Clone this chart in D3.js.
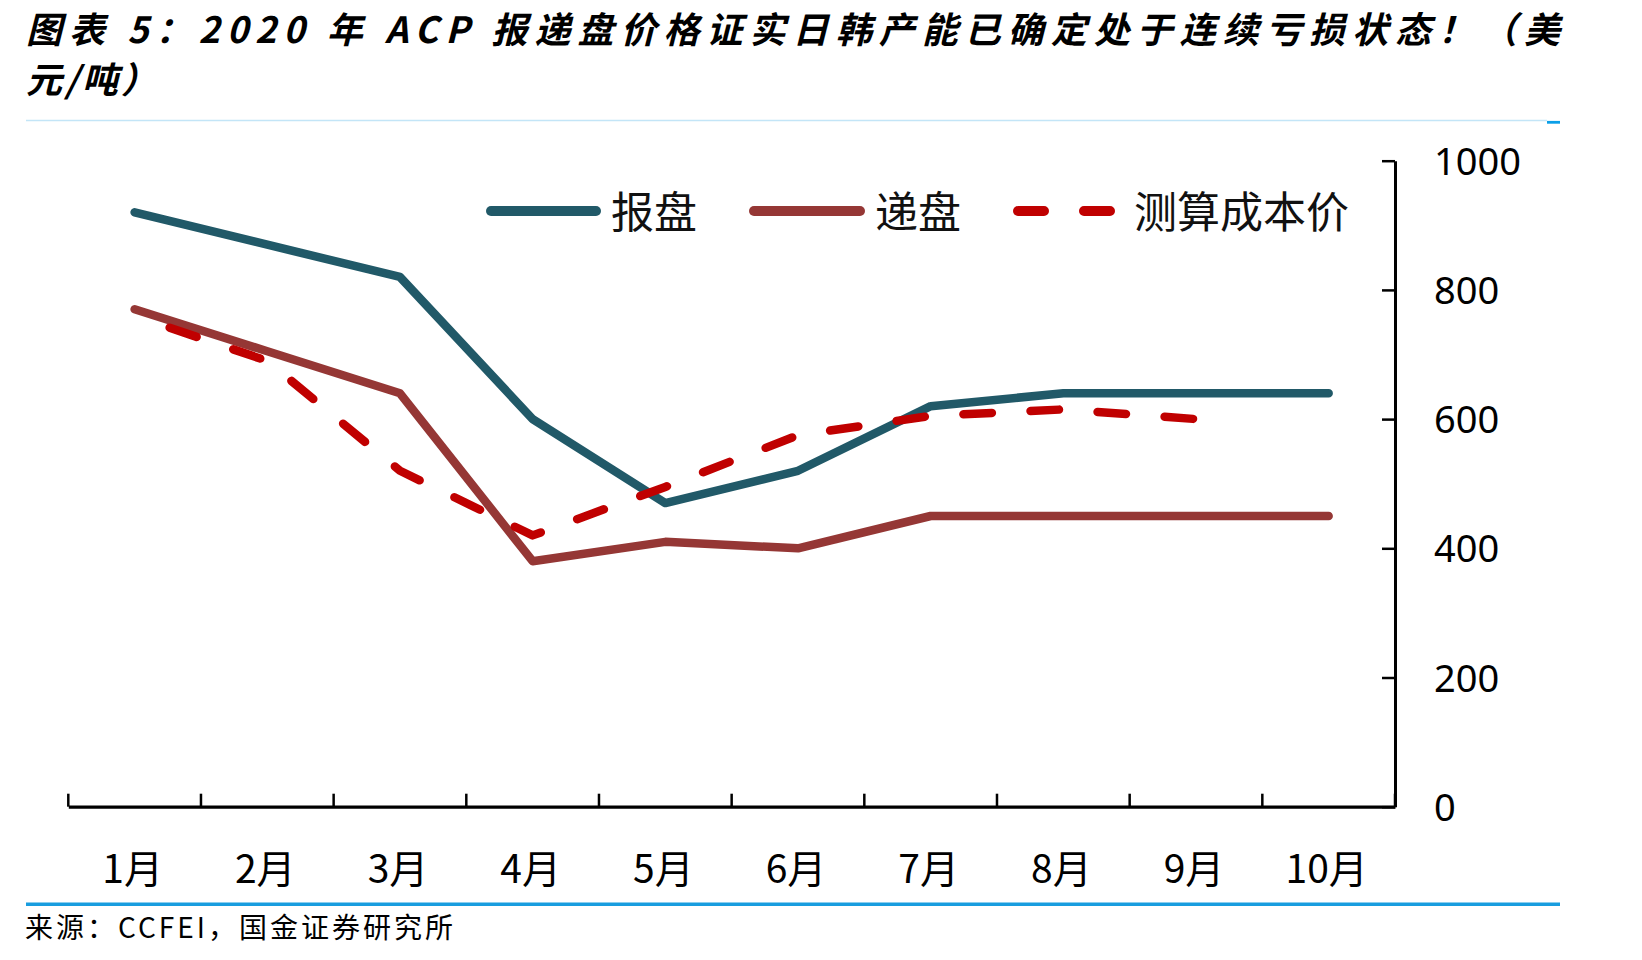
<!DOCTYPE html>
<html>
<head>
<meta charset="utf-8">
<script src="https://cdn.jsdelivr.net/npm/d3@7"></script>
<style>
  html, body { margin: 0; padding: 0; background: #ffffff; }
  svg { display: block; }
</style>
</head>
<body>
<svg id="chart" width="1642" height="960"></svg>
<script>
// ---------------- data ----------------
const titleLine1 = "图表 5：2020 年 ACP 报递盘价格证实日韩产能已确定处于连续亏损状态！（美";
const titleLine2 = "元/吨）";
const sourceText = "来源：CCFEI，国金证券研究所";
const months = ["1月", "2月", "3月", "4月", "5月", "6月", "7月", "8月", "9月", "10月"];
const seriesNames = ["报盘", "递盘", "测算成本价"];
const offerPrice = [920, 870, 820, 600, 470, 520, 620, 640, 640, 640];   // 报盘
const bidPrice   = [770, 705, 640, 380, 410, 400, 450, 450, 450, 450];   // 递盘
const costPrice  = [760, 690, 520, 420, 495, 575, 605, 615, 600];        // 测算成本价 (1–9月)
const yTicks = [0, 200, 400, 600, 800, 1000];

// ---------------- setup ----------------
const svg = d3.select("#chart");
const CJK = "'Noto Sans CJK SC', 'Noto Sans', sans-serif";
const colors = { offer: "#215968", bid: "#953735", cost: "#C00000" };

const x = d3.scaleBand().domain(months).range([68.3, 1395]).padding(0);
const y = d3.scaleLinear().domain([0, 1000]).range([806.7, 160.7]);
const cx = d => x(d) + x.bandwidth() / 2;

// ---------------- title ----------------
svg.append("text")
  .attr("x", 26).attr("y", 43)
  .attr("font-family", CJK).attr("font-weight", "bold").attr("font-style", "italic")
  .attr("font-size", 36).attr("fill", "#000")
  .attr("textLength", 1534).attr("lengthAdjust", "spacing")
  .text(titleLine1);
svg.append("text")
  .attr("x", 26).attr("y", 93)
  .attr("font-family", CJK).attr("font-weight", "bold").attr("font-style", "italic")
  .attr("font-size", 36).attr("fill", "#000")
  .attr("textLength", 131).attr("lengthAdjust", "spacing")
  .text(titleLine2);

// separator under title
svg.append("line")
  .attr("x1", 26).attr("x2", 1547).attr("y1", 120.5).attr("y2", 120.5)
  .attr("stroke", "#c3e5f7").attr("stroke-width", 1.5);
svg.append("line")
  .attr("x1", 1547).attr("x2", 1560).attr("y1", 122.3).attr("y2", 122.3)
  .attr("stroke", "#0b9fe8").attr("stroke-width", 2.8);

// ---------------- axes ----------------
const xAxis = svg.append("g")
  .attr("transform", `translate(0,${y(0)})`)
  .call(d3.axisBottom(x).tickSize(0).tickSizeOuter(0));
xAxis.select(".domain").attr("stroke", "#000").attr("stroke-width", 3.3);
xAxis.selectAll(".tick text")
  .attr("dy", null).attr("y", 76).attr("x", -2)
  .attr("font-family", CJK).attr("font-size", 39).attr("fill", "#000");

const boundaries = months.map(m => x(m)).concat([x.range()[1]]);
svg.append("g").selectAll("line.xb")
  .data(boundaries)
  .join("line")
  .attr("class", "xb")
  .attr("x1", d => d).attr("x2", d => d)
  .attr("y1", y(0)).attr("y2", y(0) - 13)
  .attr("stroke", "#000").attr("stroke-width", 2.5);

const yAxis = svg.append("g")
  .attr("transform", `translate(${x.range()[1]},0)`)
  .call(d3.axisRight(y).tickValues(yTicks).tickFormat(d3.format("d"))
    .tickSizeInner(-13).tickSizeOuter(0).tickPadding(39));
yAxis.select(".domain").attr("stroke", "#000").attr("stroke-width", 3);
yAxis.selectAll(".tick line").attr("stroke", "#000").attr("stroke-width", 2.5);
yAxis.selectAll(".tick text")
  .attr("dy", "0.36em")
  .attr("font-family", "'Noto Sans', 'Open Sans', sans-serif")
  .attr("font-size", 38).attr("fill", "#000");

// ---------------- lines ----------------
const lineGen = d3.line()
  .x((d, i) => cx(months[i]))
  .y(d => y(d));

const plot = svg.append("g");
plot.append("path")
  .datum(offerPrice)
  .attr("d", lineGen)
  .attr("fill", "none").attr("stroke", colors.offer)
  .attr("stroke-width", 8.5).attr("stroke-linecap", "round").attr("stroke-linejoin", "round");
plot.append("path")
  .datum(bidPrice)
  .attr("d", lineGen)
  .attr("fill", "none").attr("stroke", colors.bid)
  .attr("stroke-width", 8.5).attr("stroke-linecap", "round").attr("stroke-linejoin", "round");
const costPath = plot.append("path")
  .datum(costPrice)
  .attr("d", lineGen)
  .attr("fill", "none").attr("stroke", colors.cost)
  .attr("stroke-width", 8.5).attr("stroke-linecap", "round").attr("stroke-linejoin", "round");

// dash pattern: starts with a short gap, last dash ends at the final point (as in the source chart)
(function () {
  const L = costPath.node().getTotalLength();
  const D = 28.5, startGap = 37, endTrim = 3;
  const span = L - startGap - endTrim - D;
  const n = Math.max(1, Math.round(span / 66.7));
  const P = span / n;
  costPath.attr("stroke-dasharray", `${D},${P - D}`)
          .attr("stroke-dashoffset", -startGap);
})();

// ---------------- legend ----------------
const legendItems = [
  { name: seriesNames[0], color: colors.offer, x1: 491, x2: 596, tx: 611, dash: null },
  { name: seriesNames[1], color: colors.bid,   x1: 754, x2: 860, tx: 875, dash: null },
  { name: seriesNames[2], color: colors.cost,  x1: 1018, x2: 1111, tx: 1134, dash: "26,40" }
];
const legend = svg.append("g");
const lg = legend.selectAll("g").data(legendItems).join("g");
lg.append("line")
  .attr("x1", d => d.x1).attr("x2", d => d.x2)
  .attr("y1", 211).attr("y2", 211)
  .attr("stroke", d => d.color).attr("stroke-width", 10)
  .attr("stroke-linecap", "round")
  .attr("stroke-dasharray", d => d.dash);
lg.append("text")
  .attr("x", d => d.tx).attr("y", 228)
  .attr("font-family", CJK).attr("font-size", 43).attr("fill", "#111")
  .text(d => d.name);

// ---------------- footer ----------------
svg.append("line")
  .attr("x1", 26).attr("x2", 1560).attr("y1", 904.3).attr("y2", 904.3)
  .attr("stroke", "#199ddf").attr("stroke-width", 3.5);
svg.append("text")
  .attr("x", 25).attr("y", 938)
  .attr("font-family", CJK).attr("font-size", 28).attr("fill", "#000")
  .attr("textLength", 428).attr("lengthAdjust", "spacing")
  .text(sourceText);
</script>
</body>
</html>
